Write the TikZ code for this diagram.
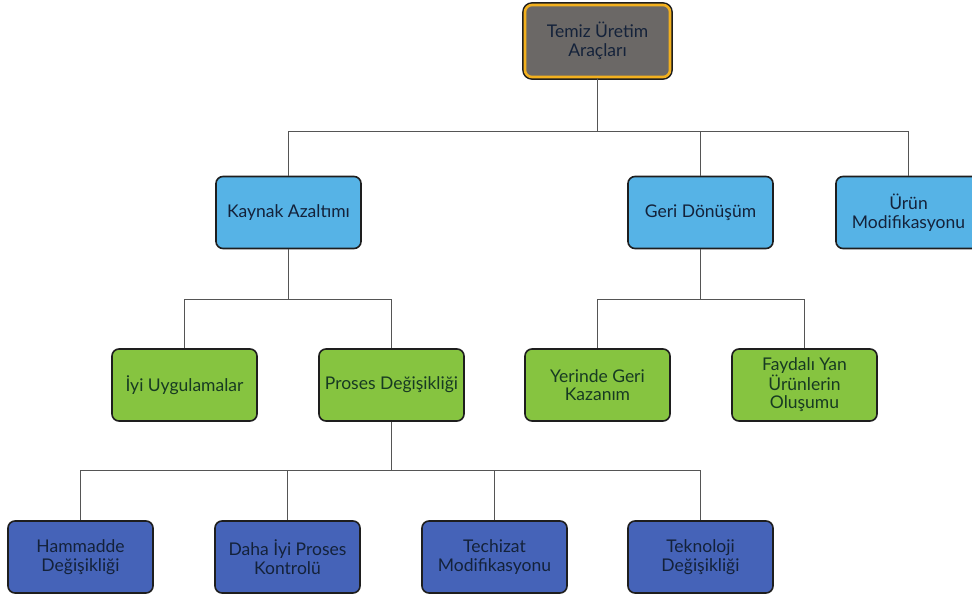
\documentclass[tikz,border=0pt]{standalone}
\usepackage{fontspec}
\setmainfont{Lato}
\definecolor{edgedark}{HTML}{1E1E1E}
\definecolor{linegray}{HTML}{555555}
\definecolor{topgray}{HTML}{6B6866}
\definecolor{toporange}{HTML}{F2B01E}
\definecolor{lblue}{HTML}{56B3E6}
\definecolor{lgreen}{HTML}{86C440}
\definecolor{dblue}{HTML}{4563B8}
\definecolor{txtdark}{HTML}{14223A}
\definecolor{txtgreen}{HTML}{173A22}
\tikzset{
  box/.style={draw=edgedark, line width=1.6pt, rounded corners=7pt,
    minimum width=145pt, minimum height=72pt, align=center,
    font=\fontsize{17.5}{18.5}\selectfont, text=txtdark, inner sep=2pt},
  topbox/.style={box, fill=topgray, draw=toporange, line width=2.6pt,
    preaction={draw=edgedark, line width=5.6pt}},
  bluebox/.style={box, fill=lblue},
  greenbox/.style={box, fill=lgreen, text=txtgreen},
  navybox/.style={box, fill=dblue},
  conn/.style={draw=linegray, line width=1.2pt}
}
\begin{document}
\begin{tikzpicture}[x=1pt,y=-1pt]
\useasboundingbox (0,0) rectangle (972,599);
\node[topbox] (top) at (597.5,41) {Temiz Üretim\\Araçları};
\node[bluebox] (ka) at (288.5,212.5) {Kaynak Azaltımı};
\node[bluebox] (gd) at (700.5,212.5) {Geri Dönüşüm};
\node[bluebox] (um) at (908.5,212.5) {Ürün\\Modifikasyonu};
\node[greenbox] (iu) at (184.5,385) {İyi Uygulamalar};
\node[greenbox] (pd) at (391.5,385) {Proses Değişikliği};
\node[greenbox] (yg) at (597.5,385) {Yerinde Geri\\Kazanım};
\node[greenbox] (fy) at (804.5,385) {Faydalı Yan\\Ürünlerin\\Oluşumu};
\node[navybox] (hd) at (80.5,557) {Hammadde\\Değişikliği};
\node[navybox] (dk) at (287.5,557) {Daha İyi Proses\\Kontrolü};
\node[navybox] (tm) at (494.5,557) {Techizat\\Modifikasyonu};
\node[navybox] (td) at (700.5,557) {Teknoloji\\Değişikliği};
\draw[conn] (top.south) -- ++(0,53) -| (ka.north);
\draw[conn] (top.south) ++(0,53) -| (gd.north);
\draw[conn] (top.south) ++(0,53) -| (um.north);
\draw[conn] (ka.south) -- ++(0,50) -| (iu.north);
\draw[conn] (ka.south) ++(0,50) -| (pd.north);
\draw[conn] (gd.south) -- ++(0,50) -| (yg.north);
\draw[conn] (gd.south) ++(0,50) -| (fy.north);
\draw[conn] (pd.south) -- ++(0,49) -| (hd.north);
\draw[conn] (pd.south) ++(0,49) -| (dk.north);
\draw[conn] (pd.south) ++(0,49) -| (tm.north);
\draw[conn] (pd.south) ++(0,49) -| (td.north);
\end{tikzpicture}
\end{document}
